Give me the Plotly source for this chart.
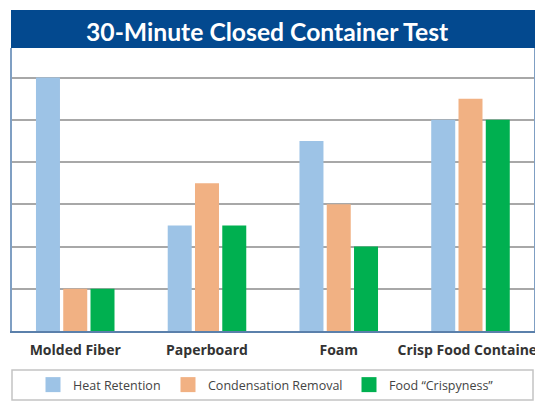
import plotly.graph_objects as go

categories = ["Molded Fiber", "Paperboard", "Foam", "Crisp Food Container"]
series_names = ["Heat Retention", "Condensation Removal", "Food \u201cCrispyness\u201d"]
heat_retention = [6, 2.5, 4.5, 5]
condensation_removal = [1, 3.5, 3, 5.5]
food_crispyness = [1, 2.5, 2, 5]
colors = ["#9dc3e6", "#f1b183", "#00b050"]

W, H = 535, 401
L, R, T, B = 12, 1, 48, 70
pw, ph = W - L - R, H - T - B

def px_x(p):
    return (p - L) / pw

def px_y(p):
    return (H - B - p) / ph

xs = list(range(len(categories)))
fig = go.Figure()
for name, vals, col in zip(series_names, [heat_retention, condensation_removal, food_crispyness], colors):
    fig.add_trace(go.Bar(x=xs, y=vals, name=name, marker=dict(color=col, line=dict(width=0)),
                         showlegend=False))

legend_x = [45, 180, 361]
for i, (name, col) in enumerate(zip(series_names, colors)):
    lg = "legend" if i == 0 else f"legend{i+1}"
    fig.add_trace(go.Scatter(x=[None], y=[None], mode="markers", name=name,
                             marker=dict(symbol="square", size=15, color=col),
                             legend=lg, showlegend=True))

legend_common = dict(orientation="h", yanchor="middle", xanchor="left",
                     font=dict(family="Open Sans", size=12.5, color="#444444"),
                     bgcolor="rgba(0,0,0,0)", borderwidth=0, itemsizing="trace")
layout_legends = {}
for i, lx in enumerate(legend_x):
    key = "legend" if i == 0 else f"legend{i+1}"
    layout_legends[key] = dict(legend_common, x=px_x(lx - 12), y=px_y(385))

fig.update_layout(
    width=W, height=H,
    margin=dict(l=L, r=R, t=T, b=B, pad=0, autoexpand=False),
    paper_bgcolor="white", plot_bgcolor="white",
    barmode="group", bargap=0.379, bargroupgap=0.12,
    xaxis=dict(tickmode="array", tickvals=xs, ticktext=categories,
               range=[-0.48, 3.482], showgrid=False, zeroline=False,
               showline=True, linecolor="#5b80ab", linewidth=2, ticks="",
               ticklabeloverflow="allow", ticklabelstandoff=5,
               tickfont=dict(family="Open Sans", size=14, color="#333333", weight="bold")),
    yaxis=dict(range=[0, 6.7], dtick=1, showticklabels=False, showgrid=True,
               gridcolor="#a8a8a8", gridwidth=1.5, zeroline=False,
               showline=True, linecolor="#7f9fc3", linewidth=2, mirror=True, ticks=""),
    shapes=[
        dict(type="rect", xref="paper", yref="paper",
             x0=px_x(11), x1=px_x(536), y0=px_y(10), y1=px_y(48),
             fillcolor="#03498f", line=dict(width=0), layer="above"),
        dict(type="rect", xref="paper", yref="paper",
             x0=px_x(12), x1=px_x(533), y0=px_y(370), y1=px_y(400),
             fillcolor="rgba(0,0,0,0)", line=dict(color="#c4c4c4", width=1.5)),
    ],
    annotations=[
        dict(text="30-Minute Closed Container Test", xref="paper", yref="paper",
             x=px_x(267), y=px_y(31), xanchor="center", yanchor="middle",
             showarrow=False,
             font=dict(family="Lato", size=24.7, color="white", weight="bold")),
    ],
    **layout_legends,
)

fig.write_html("out.html", config={"displayModeBar": False},
               post_script="document.body.style.margin='0px';")
